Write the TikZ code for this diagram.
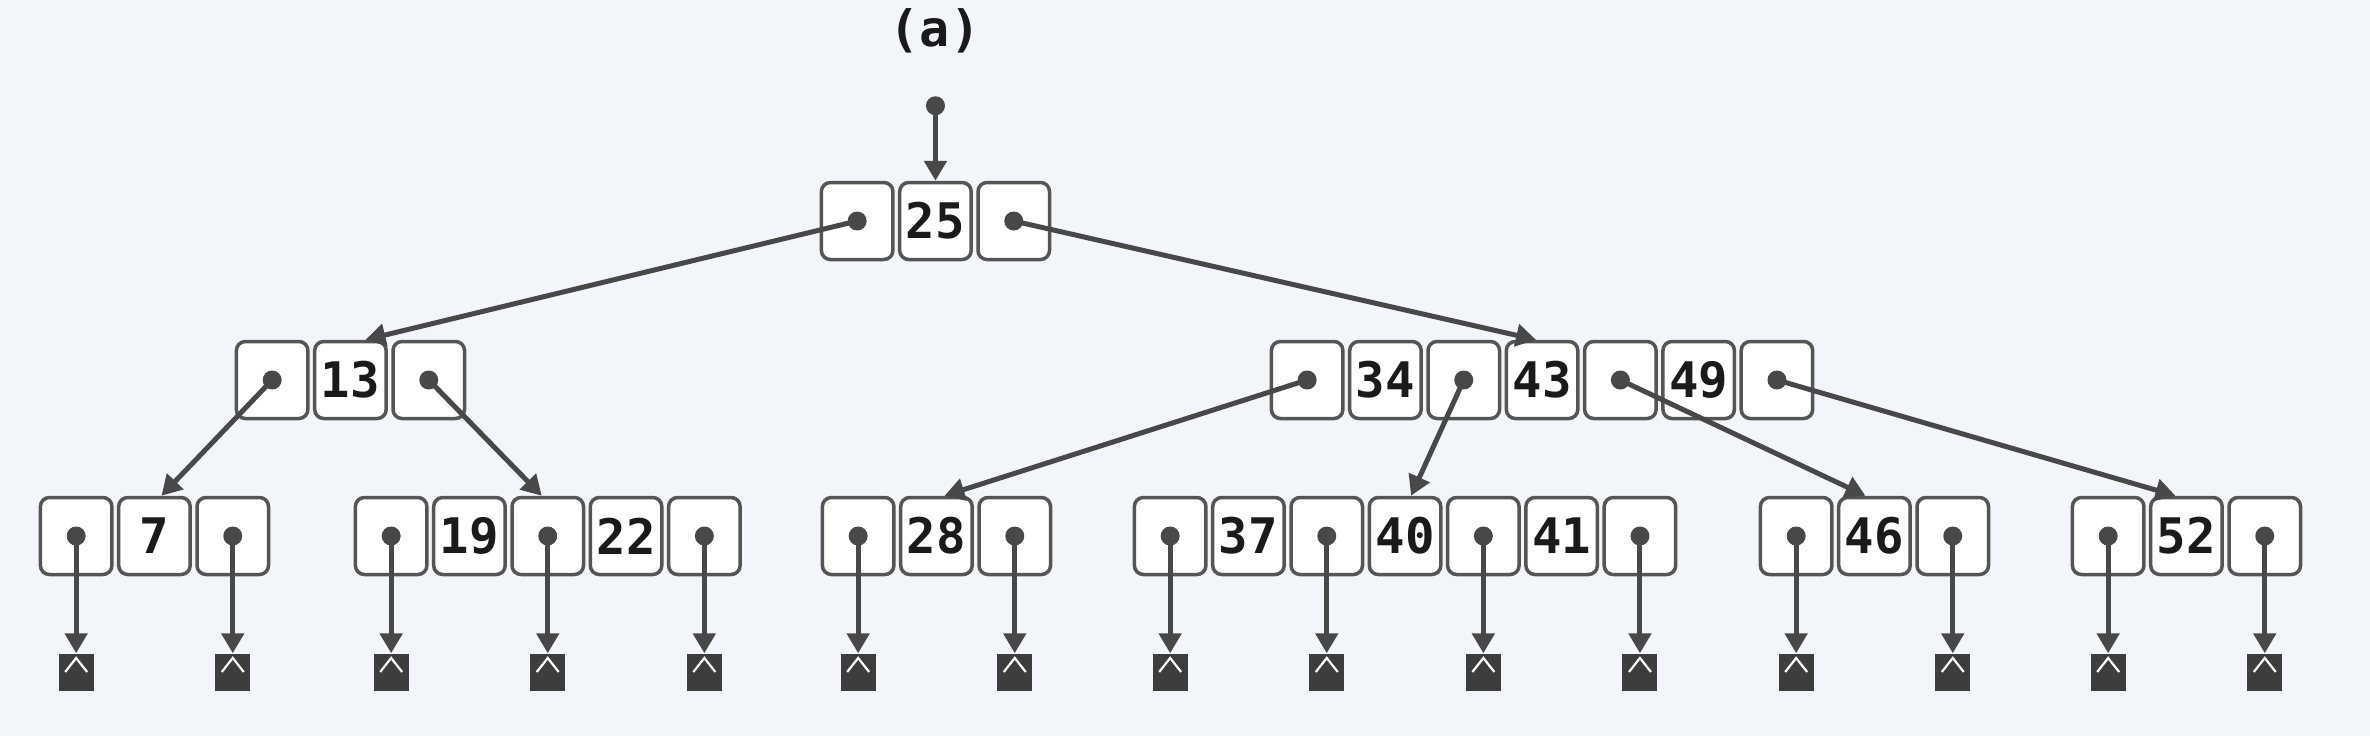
\documentclass[tikz,border=0pt]{standalone}
\usepackage{fontspec}
\newfontfamily\cellfont{DejaVu Sans Mono}
\usetikzlibrary{arrows.meta}
\definecolor{bgc}{HTML}{F2F6FA}
\definecolor{cellline}{HTML}{555555}
\definecolor{ptrc}{HTML}{484848}
\definecolor{leafc}{HTML}{3D3D3D}
\definecolor{txtc}{HTML}{1A1A1A}
\tikzset{
  cellbox/.style={draw=cellline, line width=3.5pt, fill=white, rounded corners=9pt,
    minimum width=71.5pt, minimum height=77pt, inner sep=0pt,
    font=\cellfont\bfseries\fontsize{49}{49}\selectfont, text=txtc},
  arr/.style={draw=ptrc, line width=5pt, -{Triangle[length=20pt,width=22pt]}},
  dotc/.style={fill=ptrc},
  leafbox/.style={fill=leafc, minimum width=35pt, minimum height=37pt, inner sep=0pt},
  titlefont/.style={font=\cellfont\bfseries\fontsize{50}{50}\selectfont, text=txtc}
}
\newcommand\cellrow[4]{%
  \foreach \t [count=\i] in {#4} {
    \node[cellbox] (#1\i) at ({#2+39.15+(\i-1)*78.3}, #3) {\t};
  }}
\newcommand\ptrdot[1]{\fill[dotc] (#1.center) circle (9.5pt);}
\newcommand\leafat[2]{%
  \node[leafbox] (#1) at (#2.center |- 0,-672) {};
  \draw[white, line width=2.2pt] ([xshift=-11pt,yshift=0pt]#1.center) -- ([yshift=14pt]#1.center) -- ([xshift=11pt,yshift=0pt]#1.center);
  \draw[arr] (#2.center) -- (#1.north);
  \ptrdot{#2}}
\begin{document}
\begin{tikzpicture}[x=1pt,y=1pt]
\fill[bgc] (0,0) rectangle (2370,-736);
\useasboundingbox (0,0) rectangle (2370,-736);

\node[titlefont] (title) at (935,-31) {(a)};

% nodes
\cellrow{r}{818}{-221}{{},25,{}}
\cellrow{a}{233}{-380}{{},13,{}}
\cellrow{b}{1268}{-380}{{},34,{},43,{},49,{}}
\cellrow{c}{37}{-536}{{},7,{}}
\cellrow{d}{352}{-536}{{},19,{},22,{}}
\cellrow{e}{819}{-536}{{},28,{}}
\cellrow{f}{1131}{-536}{{},37,{},40,{},41,{}}
\cellrow{g}{1757}{-536}{{},46,{}}
\cellrow{h}{2069}{-536}{{},52,{}}

% root pointer
\coordinate (top) at ([yshift=75pt]r2.north);
\draw[arr] (top) -- (r2.north);
\fill[dotc] (top) circle (9.5pt);

% inner connectors
\draw[arr] (r1.center) -- ([xshift=15pt]a2.north);
\draw[arr] (r3.center) -- ([xshift=-6pt]b4.north);
\draw[arr] (a1.center) -- ([xshift=7pt]c2.north);
\draw[arr] (a3.center) -- ([xshift=-6pt]d3.north);
\draw[arr] (b1.center) -- ([xshift=8pt]e2.north);
\draw[arr] (b3.center) -- ([xshift=6pt]f4.north);
\draw[arr] (b5.center) -- ([xshift=-9pt]g2.north);
\draw[arr] (b7.center) -- ([xshift=-11pt]h2.north);
\ptrdot{r1}\ptrdot{r3}
\ptrdot{a1}\ptrdot{a3}
\ptrdot{b1}\ptrdot{b3}\ptrdot{b5}\ptrdot{b7}

% leaves
\leafat{lc1}{c1}\leafat{lc3}{c3}
\leafat{ld1}{d1}\leafat{ld3}{d3}\leafat{ld5}{d5}
\leafat{le1}{e1}\leafat{le3}{e3}
\leafat{lf1}{f1}\leafat{lf3}{f3}\leafat{lf5}{f5}\leafat{lf7}{f7}
\leafat{lg1}{g1}\leafat{lg3}{g3}
\leafat{lh1}{h1}\leafat{lh3}{h3}
\end{tikzpicture}
\end{document}
